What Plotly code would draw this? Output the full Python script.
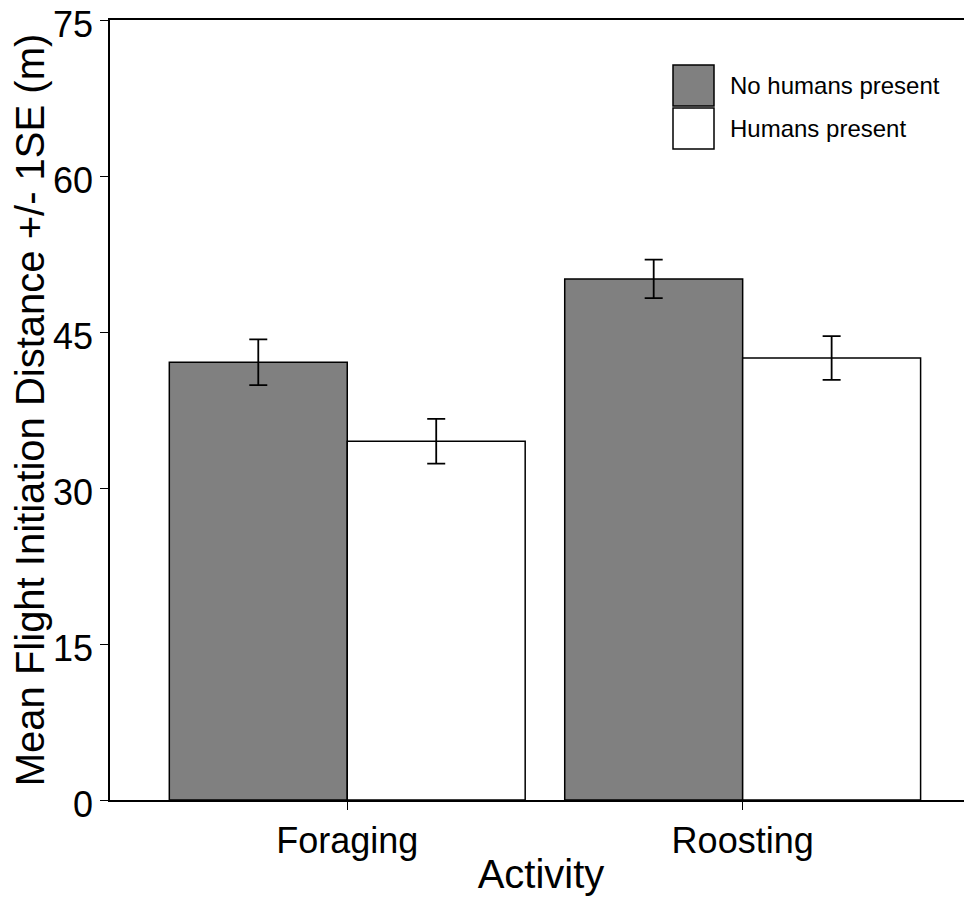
import plotly.graph_objects as go

activities = ["Foraging", "Roosting"]
series_names = ["No humans present", "Humans present"]
no_humans_mean = [42.1, 50.1]
no_humans_se = [2.2, 1.85]
humans_mean = [34.5, 42.5]
humans_se = [2.15, 2.1]
y_ticks = [0, 15, 30, 45, 60, 75]

FONT = "Liberation Sans, Arial, sans-serif"
x_pos = list(range(len(activities)))

# the page body adds an 8px margin, so the figure is sized/placed to compensate
OFF = 8
W, H = 972 - OFF, 898 - OFF
ml, mr, mt = 110 - OFF, 0, 20 - OFF
ph = 780
mb = H - mt - ph
pw = W - ml - mr

fig = go.Figure()
fig.add_trace(go.Bar(
    x=x_pos, y=no_humans_mean, name=series_names[0],
    marker=dict(color="#808080", line=dict(color="#000000", width=1.5)),
    error_y=dict(type="data", array=no_humans_se, color="#000000", thickness=1.8, width=9),
    showlegend=False,
))
fig.add_trace(go.Bar(
    x=x_pos, y=humans_mean, name=series_names[1],
    marker=dict(color="#ffffff", line=dict(color="#000000", width=1.5)),
    error_y=dict(type="data", array=humans_se, color="#000000", thickness=1.8, width=9),
    showlegend=False,
))

# legend drawn as large swatches with text labels
swatch_colors = ["#808080", "#ffffff"]
sw_x0, sw_x1 = 673 - OFF, 714 - OFF
sw_tops = [65 - OFF, 108 - OFF]
for name, col, top in zip(series_names, swatch_colors, sw_tops):
    fig.add_shape(type="rect", xref="paper", yref="paper",
                  x0=(sw_x0 - ml) / pw, x1=(sw_x1 - ml) / pw,
                  y0=1 - (top + 41 - mt) / ph, y1=1 - (top - mt) / ph,
                  fillcolor=col, line=dict(color="#000000", width=1.5))
    fig.add_annotation(xref="paper", yref="paper",
                       x=(728 - OFF - ml) / pw, y=1 - (top + 20.5 - mt) / ph,
                       text=name, showarrow=False, xanchor="left", yanchor="middle",
                       font=dict(family=FONT, size=24, color="#000000"))

fig.update_layout(
    width=W, height=H,
    margin=dict(l=ml, r=mr, t=mt, b=mb, autoexpand=False),
    paper_bgcolor="#ffffff", plot_bgcolor="#ffffff",
    barmode="group", bargap=0.1, bargroupgap=0,
    font=dict(family=FONT, color="#000000"),
    xaxis=dict(
        tickmode="array", tickvals=x_pos, ticktext=activities,
        range=[-0.6, 1.58], showgrid=False, zeroline=False,
        showline=True, linecolor="#000000", linewidth=1.5, mirror=True,
        ticks="outside", ticklen=8, tickwidth=1, tickcolor="#000000",
        tickfont=dict(family=FONT, size=36), automargin=False,
        title=dict(text="Activity", font=dict(family=FONT, size=40), standoff=0),
    ),
    yaxis=dict(
        range=[0, 75], tickvals=y_ticks, showgrid=False, zeroline=False,
        showline=True, linecolor="#000000", linewidth=1.5, mirror=False,
        ticks="outside", ticklen=8, tickwidth=1, tickcolor="#000000",
        tickfont=dict(family=FONT, size=36), ticklabeloverflow="allow",
        ticklabelshift=4,
        automargin=False,
        title=dict(text="Mean Flight Initiation Distance +/- 1SE (m)",
                   font=dict(family=FONT, size=40), standoff=6),
    ),
)

fig.write_html("out.html")
